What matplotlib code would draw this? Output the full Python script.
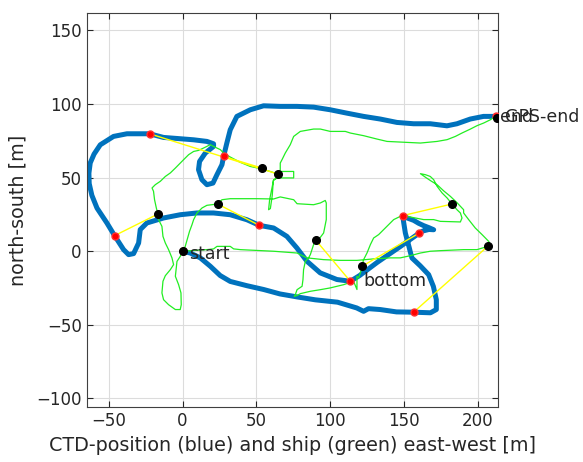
import numpy as np
import matplotlib
matplotlib.use("Agg")
import matplotlib.pyplot as plt

# CTD track (blue), east-west / north-south [m]
ctd_x = [0, 5.2, 12, 18.8, 25.5, 32.3, 43.6, 55, 66, 77.5, 90, 105, 118, 122.7, 126, 134, 145,
         156.6, 168, 172, 172, 170, 166.8, 161, 155.5, 154.5, 153.7, 151, 149.8, 149.2, 152.5,
         156.6, 160, 163.4, 167, 170.2, 167, 163, 160.5, 155, 148, 140, 132, 126, 120, 113.7,
         104.6, 93.3, 84.3, 77.5, 70.7, 61.7, 52, 43.6, 32.3, 21, 9.7, -1.6, -12.9, -24.2,
         -28.7, -29.8, -33.2, -36.6, -40, -46.1, -51.3, -58, -61.5, -63.3, -63.5, -62.6, -60,
         -55.8, -46.8, -37.7, -28.7, -22.4, -12.9, -3.8, 7.5, 16.5, 21, 21, 15.4, 11.5, 10.8,
         13.1, 16.5, 20.6, 23.3, 26.7, 27.8, 30, 32.3, 36.8, 45.9, 54.9, 66.2, 77.5, 88.8,
         100.1, 111.4, 122.7, 134, 145.3, 156.6, 167.9, 179.2, 186, 195, 204, 212.7]
ctd_y = [0, -1.2, -4.5, -10.2, -16.5, -20.5, -23.4, -26, -29, -31, -33, -34.6, -38.5, -40.8,
         -39, -39.6, -41.2, -41.4, -41.8, -39.6, -32.9, -23.9, -15.9, -9.8, -4.6, -1, 2.2,
         12.4, 20, 24.2, 22.5, 21, 19, 17.4, 16, 14.6, 14.8, 13.8, 12.4, 8.5, 3.5, -2, -7.5,
         -12, -16.5, -20.4, -19.2, -14.7, -6.8, 2.2, 10.1, 15.8, 17.6, 21.4, 24.8, 26, 26,
         24.8, 22.6, 19.2, 14.7, 5.6, -1.6, -2.3, 1.1, 10.6, 19.2, 29.3, 38, 46, 53, 60, 66,
         72.3, 78, 79.8, 79.8, 79.8, 77.3, 76.6, 75.7, 74.6, 73, 71.2, 66.7, 61, 55.4, 48.6,
         45.2, 46.3, 52, 58.8, 64.4, 73.5, 82.5, 91.6, 96.1, 98.8, 98.4, 98.4, 97.9, 96.1,
         93.8, 91.6, 89.8, 87.5, 86.6, 86.6, 85.2, 86.6, 89.8, 91.6, 91.6]

# ship GPS track (green), NaN separates pieces
ship_x = [0, 1.8, 3.4, 4.7, 6.4, 7.5, 9.8, 13.2, 16.5, 23.7, 26.7, 32.3, 50.4, 61.7, 66.2,
          75.3, 77.6, 88.8, 93.4, 96.7, 97.4, 97.4, 95.6, 92.2, 90.4, 88.8, 87.7, 86.6, 85.4,
          83.2, 82, 81.6, 81, 77.6, 76.4, 75.7, 77.6, 79.8, 86.6, 93.4, 100.1, 109.2, 115.9,
          118.2, 118.2, 119.3, 121.6, 121.6, 122.7, 125, 127.3, 129.5, 132.9, 136.3, 139.7,
          143.1, 147.6, 152.1, 157.8, 163.4, 170.2, 174.7, 188.3, 189.4, 188.3, 186, 182.6,
          179.3, 175.9, 172.5, 170.2, 167.9, 164.6, 161.2,
          165, 168, 172.5, 177, 181.5, 186, 190.5, 190.5, 193.9, 198.4, 203, 207.5, 208.6,
          206.8, 199.6, 190.5, 174.7, 167.9, 161.2, 154.4, 147.6, 140.8, 129.5, 118.2, 106.9,
          95.6, 84.3, 77.6, 61.7, 39.1, 34.6, 32.3, 23.3, 21, 16.5, 0,
          -1.6, -3.8, -4.9, -2.7, -1.1, -0.9, -1.6, -4.9, -9.5, -12.9, -14, -13.3, -11.7, -8.3,
          -6.1, -7.2, -9.5, -11.7, -13.3, -14, -16.3, -16.7, -17.8, -19, -19.7, -20.7, -18.5,
          -15.1, -11.7, -8.3, -4.9, -1.6, 0.7, 4.1, 7.5, 10.8, 14.2, 18.8, 21, 25.6, 27.8, 32.3,
          39.1, 45.9, 53.8, 60, 64.4, 66.2, 75.3, 75.3, 64, 66.2, 66.2, 67.4, 69.6, 73, 75.3,
          79.8, 88.8, 93.4, 100.1, 110.3, 113.7, 122.7, 131.8, 138.6, 152.1, 161.2, 172.5,
          179.3, 184.9, 189.4, 195.1, 199.6, 204.1, 208.6, 212,
          np.nan, 64, 61.7, 60.1, 59, 58.3, 59.5, 60.8, 61.5, 64]
ship_y = [0, 3.3, 9, 13.5, 18.1, 21.5, 26, 29.4, 31.2, 32.1, 35, 35.7, 35.7, 35.5, 36.9,
          35, 32.3, 31.6, 32.8, 34.5, 32.8, 21.5, 12.4, 7.9, 7.4, 4.5, 1.1, -2.3, -4.5, -6.9,
          -12.5, -19.3, -23.8, -26.1, -29.5, -30.6, -30.1, -28.8, -27.2, -26.1, -24.9, -22.7,
          -20.4, -26, -17, -18.1, -11.3, -10.2, -5.7, -1.2, 4.5, 9, 11.3, 14.7, 18.1, 21.5,
          23.7, 23.7, 22.6, 21.5, 21.5, 20.3, 19.9, 22.6, 26, 28.2, 32.1, 36.2, 39.6, 44.1,
          48.6, 50.8, 52, 52.7,
          50, 48, 45.2, 41, 37.3, 33, 28.2, 26, 21.5, 15.8, 11.3, 6.7, 4.5, 3.3, 1.1, 1.1, 0.4,
          0, -1.2, -3, -4.5, -4.5, -5.2, -6.2, -6.2, -5.7, -4.5, -1.2, 0, 1.1, 1.6, 3.3, 3.3,
          1.6, 1.1, 0,
          -3.5, -6.9, -17, -22.7, -28.3, -36.3, -39.6, -39.6, -36.3, -32.9, -28.3, -20.4, -16.6,
          -12.5, -9.1, -4.5, 1.1, 5.6, 10.1, 16.9, 21.5, 25.3, 29.4, 35, 40.7, 43, 45.2, 47.5,
          50.8, 53.2, 56.5, 59.9, 62.2, 65.6, 67.8, 68.5, 70.1, 72.4, 71.2, 69, 66.7, 64, 60.4,
          57.6, 55.9, 54, 52.5, 54.2, 54.2, 49.8, 49.8, 55.4, 59.9, 62.2, 66.7, 72.4, 78, 81.4,
          83, 83, 81.4, 81.4, 80.3, 78.5, 76.2, 74.6, 73.9, 73.5, 74.6, 75.8, 78, 80.3, 83,
          85.3, 87.1, 89.3, 91.6,
          np.nan, 49.8, 48.6, 40.7, 35, 28.2, 29, 38, 48, 49.8]

# matched positions: CTD (red) and ship (black)
red_x = [0, -46.1, -22.4, 27.8, 52, 113.7, 160.5, 149.2, 156.6, 212.7]
red_y = [0, 10.6, 79.8, 64.4, 17.6, -20.4, 12.4, 24.2, -41.4, 91.6]
blk_x = [0, -16.7, 64.4, 53.8, 23.7, 90.4, 121.6, 182.6, 206.8, 213]
blk_y = [0, 25.3, 52.5, 56.5, 32.1, 7.4, -10.2, 32.1, 3.3, 90.5]

fig = plt.figure(figsize=(5.83, 4.62), dpi=100)
ax = fig.add_axes([0.1487, 0.1184, 0.706, 0.854])

ax.plot(ctd_x, ctd_y, color='#0072BD', lw=3.6, solid_capstyle='round', zorder=2)
ax.plot(ship_x, ship_y, color='#22ee22', lw=0.9, zorder=3)
for rx, ry, bx, by in zip(red_x, red_y, blk_x, blk_y):
    ax.plot([rx, bx], [ry, by], color='#ffff00', lw=1.0, zorder=4)
ax.plot(red_x, red_y, 'o', color='#ff0000', ms=5, mec='#ff3030', zorder=5)
ax.plot(blk_x, blk_y, 'o', color='#000000', ms=5.5, zorder=6)

txt = '#262626'
ax.text(4.5, -5.0, 'start', fontsize=12.5, color=txt, va='baseline', ha='left')
ax.text(122.5, -23.4, 'bottom', fontsize=12.5, color=txt, va='baseline', ha='left')
ax.text(215.2, 88.0, 'end', fontsize=12.5, color=txt, va='baseline', ha='left', clip_on=False)
ax.text(218.6, 88.0, 'GPS-end', fontsize=12.5, color=txt, va='baseline', ha='left', clip_on=False)

ax.set_xlim(-65, 214)
ax.set_ylim(-106, 162)
ax.set_xticks([-50, 0, 50, 100, 150, 200])
ax.set_yticks([-100, -50, 0, 50, 100, 150])
ax.grid(True, color='#dcdcdc', lw=0.8)
ax.set_axisbelow(True)
ax.tick_params(direction='in', top=True, right=True, length=4, width=0.8,
               color=txt, labelcolor=txt, labelsize=12)
for s in ax.spines.values():
    s.set_color('#404040')
    s.set_linewidth(0.8)
ax.set_xlabel('CTD-position (blue) and ship (green) east-west [m]', fontsize=13.8, color=txt, labelpad=4)
ax.set_ylabel('north-south [m]', fontsize=13.8, color=txt, labelpad=6)

fig.savefig('out.png', dpi=100)
